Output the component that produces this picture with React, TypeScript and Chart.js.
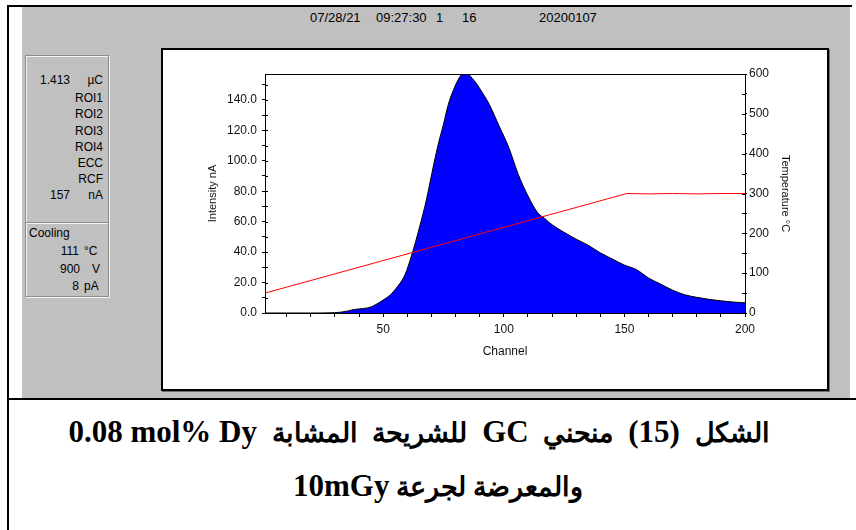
import React, { useEffect, useRef } from "react";
import { Chart, registerables } from "chart.js";

Chart.register(...registerables);

// ---- data ----
const intensityChannels = [1, 20, 30, 35, 38, 42, 45, 48, 50, 53, 56, 59, 62, 65, 68, 71, 73, 75, 77, 79, 81, 83, 85, 87, 89, 91, 94, 98, 102, 106, 110, 114, 117, 120, 125, 130, 135, 140, 145, 150, 155, 160, 165, 170, 175, 180, 185, 190, 195, 200];
const intensityValues = [0, 0, 0.2, 1.2, 2.3, 3.0, 4.0, 6.5, 8.5, 12, 17.5, 25, 39, 56, 75, 98, 112, 124, 137, 146, 153, 157, 157, 154, 150, 145, 137, 123, 109, 91, 77, 66, 62, 58, 53, 48.5, 44.5, 39.5, 35.5, 31.5, 28.5, 23, 19, 15, 12, 10.3, 9, 8, 7.2, 6.7];
const temperatureChannels = [1, 151, 160, 170, 180, 190, 200];
const temperatureValues = [50, 300, 299, 300, 299, 300, 300];

const channelTicks = [10, 20, 30, 40, 50, 60, 70, 80, 90, 100, 110, 120, 130, 140, 150, 160, 170, 180, 190, 200];
const channelLabels = [50, 100, 150, 200];
const intensityTicks = [0, 10, 20, 30, 40, 50, 60, 70, 80, 90, 100, 110, 120, 130, 140, 150];
const intensityLabels = [0, 20, 40, 60, 80, 100, 120, 140];
const temperatureTicks = [0, 50, 100, 150, 200, 250, 300, 350, 400, 450, 500, 550, 600];
const temperatureLabels = [0, 100, 200, 300, 400, 500, 600];

const headerItems = ["07/28/21", "09:27:30", "1", "16", "20200107"];
const readoutNumbers = ["1.413", "", "", "", "", "", "", "157"];
const readoutUnits = ["µC", "ROI1", "ROI2", "ROI3", "ROI4", "ECC", "RCF", "nA"];
const coolingTitle = "Cooling";
const coolingNumbers = ["111", "900", "8"];
const coolingUnits = ["°C", "V", "pA"];

const FONT = '"Liberation Sans", Arial, sans-serif';

const framePlugin = {
  id: "frame",
  afterDraw(chart: any) {
    const { ctx, chartArea: a, scales } = chart;
    ctx.save();
    ctx.strokeStyle = "#000";
    ctx.lineWidth = 1;
    ctx.beginPath();
    ctx.moveTo(a.left, Math.round(a.top) + 0.5);
    ctx.lineTo(a.right, Math.round(a.top) + 0.5);
    for (const t of scales.y.ticks) {
      const py = Math.round(scales.y.getPixelForValue(t.value)) + 0.5;
      ctx.moveTo(a.left, py);
      ctx.lineTo(a.left + 3, py);
    }
    for (const t of scales.y2.ticks) {
      const py = Math.round(scales.y2.getPixelForValue(t.value)) + 0.5;
      ctx.moveTo(a.right, py);
      ctx.lineTo(a.right - 3, py);
    }
    ctx.stroke();
    ctx.restore();
  },
};

function TLChart() {
  const ref = useRef<HTMLCanvasElement | null>(null);
  useEffect(() => {
    if (!ref.current) return;
    const tickFont = { family: FONT, size: 12 };
    const chart = new Chart(ref.current, {
      type: "line",
      data: {
        datasets: [
          {
            label: "Temperature",
            data: temperatureChannels.map((c, i) => ({ x: c, y: temperatureValues[i] })),
            yAxisID: "y2",
            borderColor: "#ff0000",
            borderWidth: 1,
            pointRadius: 0,
            fill: false,
            order: 0,
          },
          {
            label: "Intensity",
            data: intensityChannels.map((c, i) => ({ x: c, y: intensityValues[i] })),
            yAxisID: "y",
            borderColor: "#000000",
            borderWidth: 1,
            backgroundColor: "#0000ff",
            pointRadius: 0,
            fill: "origin",
            cubicInterpolationMode: "monotone",
            order: 1,
          },
        ],
      },
      options: {
        responsive: false,
        animation: false,
        devicePixelRatio: 1,
        layout: { padding: { top: 24, left: 43, right: 35, bottom: 30 } },
        plugins: { legend: { display: false }, tooltip: { enabled: false } },
        scales: {
          x: {
            type: "linear",
            min: 1,
            max: 200,
            z: 1,
            afterBuildTicks: (s: any) => {
              s.ticks = channelTicks.map((v) => ({ value: v }));
            },
            afterFit: (s: any) => {
              s.height = 46;
            },
            ticks: {
              autoSkip: false,
              maxRotation: 0,
              padding: 5,
              color: "#111",
              font: tickFont,
              callback: (v: any) => (channelLabels.includes(Number(v)) ? String(v) : ""),
            },
            grid: { drawOnChartArea: false, tickLength: 4, color: "#000", tickColor: "#000" },
            border: { display: true, color: "#000", width: 1 },
            title: { display: true, text: "Channel", color: "#111", font: tickFont, padding: 0 },
          },
          y: {
            type: "linear",
            position: "left",
            min: 0,
            max: 157,
            z: 1,
            afterBuildTicks: (s: any) => {
              s.ticks = intensityTicks.map((v) => ({ value: v }));
            },
            afterFit: (s: any) => {
              s.width = 59;
            },
            ticks: {
              autoSkip: false,
              padding: 5,
              color: "#111",
              font: tickFont,
              callback: (v: any) => (intensityLabels.includes(Number(v)) ? Number(v).toFixed(1) : ""),
            },
            grid: { drawOnChartArea: false, tickLength: 3, color: "#000", tickColor: "#000" },
            border: { display: true, color: "#000", width: 1 },
            title: { display: true, text: "Intensity nA", color: "#111", font: { family: FONT, size: 11 }, padding: 0 },
          },
          y2: {
            type: "linear",
            position: "right",
            min: 0,
            max: 600,
            z: 1,
            afterBuildTicks: (s: any) => {
              s.ticks = temperatureTicks.map((v) => ({ value: v }));
            },
            afterFit: (s: any) => {
              s.width = 47;
            },
            ticks: {
              autoSkip: false,
              padding: 2,
              color: "#111",
              font: tickFont,
              callback: (v: any) => (temperatureLabels.includes(Number(v)) ? String(v) : ""),
            },
            grid: { drawOnChartArea: false, tickLength: 2, color: "#000", tickColor: "#000" },
            border: { display: true, color: "#000", width: 1 },
            title: { display: true, text: "Temperature °C", color: "#111", font: { family: FONT, size: 11 }, padding: 0 },
          },
        },
      },
      plugins: [framePlugin],
    } as any);
    return () => chart.destroy();
  }, []);
  return <canvas ref={ref} width={664} height={339} style={{ display: "block", width: 664, height: 339 }} />;
}

const abs = (o: React.CSSProperties): React.CSSProperties => ({ position: "absolute", ...o });

const latin: React.CSSProperties = { fontSize: 31, wordSpacing: 0 };

export default function App() {
  const headerLefts = [310, 376, 436, 462, 539];
  const readoutYs = [80, 98, 114, 131, 147, 163, 179, 195];
  const coolingYs = [251, 269, 286];
  const coolingNumRight = [79, 80, 79];
  const coolingUnitLeft = [84, 92, 84];
  const captionStyle: React.CSSProperties = {
    fontFamily: '"Liberation Serif", "Times New Roman", serif',
    fontWeight: "bold",
    fontSize: 27,
    lineHeight: "36px",
    textAlign: "center",
    color: "#000",
    whiteSpace: "nowrap",
  };
  return (
    <div style={abs({ left: 0, top: 0, width: 856, height: 530, background: "#fff", overflow: "hidden", fontFamily: FONT })}>
      {/* frame lines */}
      <div style={abs({ left: 7, top: 5, width: 845, height: 2, background: "#000" })} />
      <div style={abs({ left: 7, top: 5, width: 2, height: 525, background: "#000" })} />
      <div style={abs({ left: 22, top: 7, width: 828, height: 391, background: "#c0c0c0" })} />
      <div style={abs({ left: 7, top: 398, width: 849, height: 2, background: "#000" })} />

      {/* header */}
      {headerItems.map((t, i) => (
        <div key={i} style={abs({ left: headerLefts[i], top: 10, fontSize: 13, lineHeight: "16px", color: "#000", whiteSpace: "nowrap" })}>
          {t}
        </div>
      ))}

      {/* readout panel */}
      <div style={abs({ left: 25, top: 55, width: 84, height: 242, boxSizing: "border-box", border: "1px solid #8c8c8c", boxShadow: "inset 1px 1px 0 #f4f4f4, 1px 1px 0 #f4f4f4" })} />
      <div style={abs({ left: 26, top: 222, width: 82, height: 1, background: "#8c8c8c" })} />
      <div style={abs({ left: 26, top: 223, width: 82, height: 1, background: "#f4f4f4" })} />
      {readoutUnits.map((u, i) => (
        <React.Fragment key={i}>
          {readoutNumbers[i] && (
            <div style={abs({ left: 20, width: 50, top: readoutYs[i] - 8, fontSize: 12, lineHeight: "16px", textAlign: "right", color: "#000" })}>
              {readoutNumbers[i]}
            </div>
          )}
          <div style={abs({ left: 60, width: 43, top: readoutYs[i] - 8, fontSize: 12, lineHeight: "16px", textAlign: "right", color: "#000" })}>{u}</div>
        </React.Fragment>
      ))}
      <div style={abs({ left: 29, top: 225, fontSize: 12, lineHeight: "16px", color: "#000" })}>{coolingTitle}</div>
      {coolingNumbers.map((n, i) => (
        <React.Fragment key={i}>
          <div style={abs({ left: coolingNumRight[i] - 40, width: 40, top: coolingYs[i] - 8, fontSize: 12, lineHeight: "16px", textAlign: "right", color: "#000" })}>{n}</div>
          <div style={abs({ left: coolingUnitLeft[i], top: coolingYs[i] - 8, fontSize: 12, lineHeight: "16px", color: "#000" })}>{coolingUnits[i]}</div>
        </React.Fragment>
      ))}

      {/* chart panel */}
      <div style={abs({ left: 161, top: 48, width: 668, height: 343, boxSizing: "border-box", border: "2px solid #000", background: "#fff", boxShadow: "1px 1px 0 #707070" })}>
        <TLChart />
      </div>

      {/* caption */}
      <div dir="rtl" style={abs({ left: 19, width: 800, top: 414, wordSpacing: 8, ...captionStyle })}>
        الشكل <span style={latin}>(15)</span> منحني <span style={latin}>GC</span> للشريحة المشابة{" "}
        <span dir="ltr" style={{ ...latin, unicodeBidi: "isolate" }}>0.08 mol% Dy</span>
      </div>
      <div dir="rtl" style={abs({ left: 38, width: 800, top: 468, ...captionStyle })}>
        والمعرضة لجرعة <span dir="ltr" style={{ ...latin, unicodeBidi: "isolate" }}>10mGy</span>
      </div>
    </div>
  );
}
